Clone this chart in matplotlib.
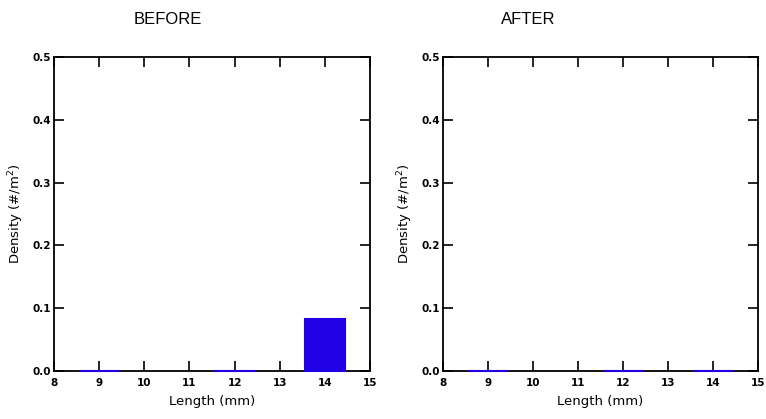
import matplotlib
matplotlib.use("Agg")
import matplotlib.pyplot as plt

lengths = [9, 12, 14]
before_density = [0.0, 0.0, 0.083]
after_density = [0.0, 0.0, 0.0]
titles = ["BEFORE", "AFTER"]
xticks = [8, 9, 10, 11, 12, 13, 14, 15]
yticks = [0.0, 0.1, 0.2, 0.3, 0.4, 0.5]

W, H = 766, 419
fig = plt.figure(figsize=(W / 100, H / 100), dpi=100)
bar_color = "#2200E6"

positions = [(54, 57, 370, 371), (443, 57, 758, 371)]
title_x = [168, 528]
for (x0, y0, x1, y1), vals, title, tx in zip(positions, [before_density, after_density], titles, title_x):
    ax = fig.add_axes([x0 / W, 1 - y1 / H, (x1 - x0) / W, (y1 - y0) / H])
    bars = ax.bar(lengths, vals, width=0.9, color=bar_color, edgecolor=bar_color,
                  linewidth=1.5, zorder=5)
    for b in bars:
        b.set_clip_on(False)
    ax.set_xlim(8, 15)
    ax.set_ylim(0, 0.5)
    ax.set_xticks(xticks)
    ax.set_yticks(yticks)
    ax.set_yticklabels([f"{v:.1f}" for v in yticks])
    ax.tick_params(direction="in", top=True, right=True, length=7, width=1.2,
                   labelsize=7.5, pad=2)
    ax.tick_params(axis="x", pad=5)
    for lab in ax.get_xticklabels() + ax.get_yticklabels():
        lab.set_fontweight("semibold")
    for s in ax.spines.values():
        s.set_linewidth(1.3)
    ax.set_xlabel("Length (mm)", fontsize=9.5, labelpad=5)
    ax.set_ylabel("Density (#/m$^2$)", fontsize=9.5, labelpad=5)
    fig.text(tx / W, 1 - 20 / H, title, ha="center", va="center", fontsize=12,
             family="Liberation Sans")

fig.savefig("out.png", dpi=100)
